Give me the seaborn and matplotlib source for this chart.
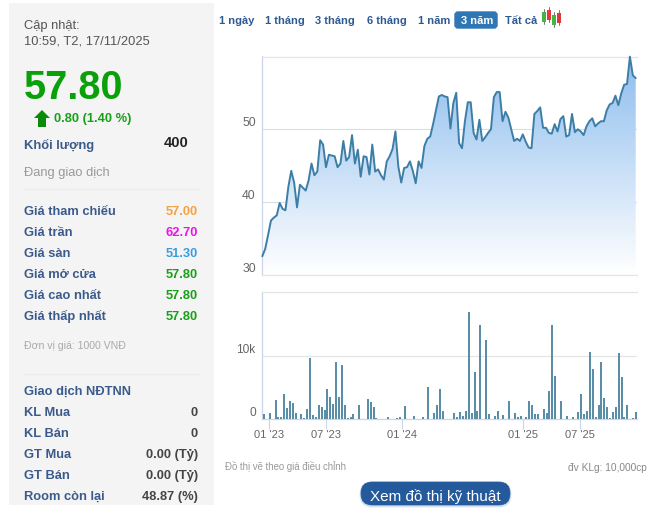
import numpy as np
import pandas as pd
import matplotlib
matplotlib.use('Agg')
import matplotlib.pyplot as plt
import seaborn as sns
from matplotlib.colors import LinearSegmentedColormap
from matplotlib.patches import FancyBboxPatch, Rectangle, Polygon

W, H = 658, 514

# weekly close
prices = [32.6, 33.6, 35.5, 37.5, 37.9, 38.2, 39.9, 39.1, 38.9, 42.1, 44.3, 42.7, 39.3, 42.4, 42.0, 41.6,
          43.0, 45.3, 43.7, 44.2, 48.5, 47.9, 44.8, 46.5, 46.4, 46.3, 44.8, 45.3, 48.4, 45.7, 46.2, 49.2,
          45.3, 47.2, 43.5, 46.3, 46.2, 43.8, 47.9, 44.2, 44.5, 43.7, 43.1, 45.6, 46.3, 47.3, 49.7, 44.9,
          42.7, 44.7, 44.8, 45.6, 44.3, 42.6, 45.6, 44.7, 47.7, 48.7, 49.0, 50.7, 52.6, 54.5,
          54.7, 54.5, 54.4, 50.1, 53.6, 55.0, 48.1, 47.4, 51.1, 53.7, 53.7, 49.5, 48.6, 51.3, 48.4, 48.9,
          49.5, 50.0, 54.4, 55.1, 55.1, 51.1, 52.4, 51.6, 50.0, 48.4, 48.7, 48.4, 49.3, 48.3, 47.5, 47.4,
          52.1, 52.5, 53.0, 50.2, 50.2, 49.5, 49.4, 50.7, 49.7, 51.4, 51.8, 49.0, 49.2, 52.1, 49.6, 50.0,
          49.7, 49.2, 50.4, 51.1, 51.5, 50.4, 50.8, 51.1, 51.1, 52.6, 53.4, 53.6, 54.6, 53.3, 54.9, 56.1,
          56.2, 59.95, 57.4, 57.0]

# volume, in thousands
volumes = [.84, 0, 1.0, 0, 3.05, .3, .35, 4.0, 1.8, 2.9,
           2.6, 1.0, 0, .84, .2, 1.6, 9.7, .7, .35, 2.3,
           1.95, 1.5, 4.8, 3.5, 2.4, 9.05, 3.5, 8.6, 2.3, .25,
           .35, .85, 0, 2.3, 0, 0, 3.2, 2.75, 1.95, .2,
           0, 0, 0, .35, 0, 0, .2, .3, 0, 2.1,
           0, 0, .5, 0, 0, .35, 0, 5.1, 0, 1.0,
           2.3, 4.8, 1.3, 0, 0, 0, 1.0, .35, 1.15, .6,
           1.3, 16.9, 1.0, 7.5, 1.3, 14.9, 0, 12.5, .85, 0,
           .5, 1.3, 0, .7, 0, 2.9, 0, 1.0, .35, .5,
           0, .3, 2.9, 2.3, .85, .85, 0, 1.6, 1.0, 4.5,
           14.9, 6.85, 0, 2.9, 0, .5, 0, .35, 0, 1.15,
           4.0, .85, 1.3, 10.6, 7.95, .35, 2.3, 9.05, 3.35, 1.95,
           .2, 1.15, 1.95, 10.5, 6.7, .35, 2.3, 0, .15, 1.15]

month_ticks = [1.84, 21.4, 47.7, 89.9, 109.7]
month_labels = ["01 '23", "07 '23", "01 '24", "01 '25", "07 '25"]
price_ticks = [30.1, 40, 50]
price_labels = ['30', '40', '50']
vol_ticks = [0, 10]
vol_labels = ['0', '10k']

tabs = ['1 ngày', '1 tháng', '3 tháng', '6 tháng', '1 năm', '3 năm', 'Tất cả']

price_rows = ['Giá tham chiếu', 'Giá trần', 'Giá sàn', 'Giá mở cửa', 'Giá cao nhất', 'Giá thấp nhất']
price_vals = ['57.00', '62.70', '51.30', '57.80', '57.80', '57.80']
foreign_rows = ['KL Mua', 'KL Bán', 'GT Mua', 'GT Bán', 'Room còn lại']
foreign_vals = ['0', '0', '0.00 (Tỷ)', '0.00 (Tỷ)', '48.87 (%)']

sns.set_theme(style='white')
plt.rcParams['font.family'] = ['Liberation Sans', 'DejaVu Sans']

LINE = '#3d7ea6'
BAR = '#5a8ea8'
GRID = '#e4e4e4'
AXIS = '#ccd6eb'
TICK = '#666666'
LABEL = '#3b5a8c'
GREEN = '#17a017'


def px_axes(fig, left, top, right, bottom):
    return fig.add_axes([left / W, 1 - bottom / H, (right - left) / W, (bottom - top) / H])


fig = plt.figure(figsize=(W / 100, H / 100), dpi=100, facecolor='white')

# page overlay in pixel coordinates
bg = fig.add_axes([0, 0, 1, 1])
bg.set_xlim(0, W)
bg.set_ylim(H, 0)
bg.axis('off')
bg.add_patch(Rectangle((9, 3), 205, 502, fc='#f4f4f4', ec='none'))


def txt(x, y, s, size, color, weight='normal', ha='left'):
    # y is the middle of the capitals, anchor on the baseline so accents don't shift rows
    bg.text(x, y + 0.5 * size, s, fontsize=size, color=color, fontweight=weight, ha=ha, va='baseline')


txt(24, 24.5, 'Cập nhật:', 9.3, '#555555')
txt(24, 39.5, '10:59, T2, 17/11/2025', 9.3, '#555555')
txt(24, 85, '57.80', 28.5, '#0aa00a', 'bold')
bg.add_patch(Polygon([[34, 118], [42, 110], [50, 118], [46, 118], [46, 127], [38, 127], [38, 118]],
                     fc='#0b8a0b', ec='none'))
txt(54, 117, '0.80 (1.40 %)', 9.3, GREEN, 'bold')
txt(24, 144, 'Khối lượng', 9.4, LABEL, 'bold')
txt(189, 142, '400', 10.6, '#222222', 'bold', 'right')
txt(24, 171, 'Đang giao dịch', 9.3, '#999999')
bg.plot([24, 199], [189, 189], color='#ebebeb', lw=0.8)

row_colors = ['#f7a13c', '#ee11ee', '#3d9be0', GREEN, GREEN, GREEN]
for i, (name, val) in enumerate(zip(price_rows, price_vals)):
    txt(24, 210 + 21 * i, name, 9.3, LABEL, 'bold')
    txt(198, 210 + 21 * i, val, 9.3, row_colors[i], 'bold', 'right')

txt(24, 345, 'Đơn vị giá: 1000 VNĐ', 7.6, '#aaaaaa')
bg.plot([24, 199], [374, 374], color='#ebebeb', lw=0.8)
txt(24, 390, 'Giao dịch NĐTNN', 9.3, LABEL, 'bold')
for i, (name, val) in enumerate(zip(foreign_rows, foreign_vals)):
    txt(24, 411 + 21 * i, name, 9.3, LABEL, 'bold')
    txt(198, 411 + 21 * i, val, 9.3, '#444444', 'bold', 'right')

# range tabs
tab_x = [219, 265, 315, 367, 418, 461, 505]
for name, x in zip(tabs, tab_x):
    selected = name == '3 năm'
    if selected:
        bg.add_patch(FancyBboxPatch((455, 12), 42, 16, boxstyle='round,pad=0,rounding_size=3',
                                    fc='#2f76b5', ec='#2f76b5', lw=1))
    txt(x, 19.5, name, 8, 'white' if selected else '#2e5a94', 'bold')

# little candlestick icon
for x, y0, y1, c in [(544, 12, 22, '#45b545'), (549, 10, 20, '#e23b3b'), (554, 15, 25, '#45b545'), (558.5, 13, 23, '#d93a3a')]:
    bg.plot([x, x], [y0 - 3, y1 + 2], color='#777777', lw=0.7)
    bg.add_patch(Rectangle((x - 2, y0), 4, y1 - y0, fc=c, ec='none', zorder=3))

txt(225, 467, 'Đồ thị vẽ theo giá điều chỉnh', 6.9, '#999999')
txt(647, 467, 'đv KLg: 10,000cp', 7.3, '#888888', ha='right')

bg.add_patch(FancyBboxPatch((361, 483), 149, 23, boxstyle='round,pad=0,rounding_size=11',
                            fc='#d8e2ee', ec='#d8e2ee', lw=2))
bg.add_patch(FancyBboxPatch((361, 482), 149, 23, boxstyle='round,pad=0,rounding_size=11',
                            fc='#245a9b', ec='#245a9b', lw=0.5))
txt(435.5, 495, 'Xem đồ thị kỹ thuật', 11, 'white', ha='center')

# price panel
ax = px_axes(fig, 262, 56.5, 637, 274.5)
ax.patch.set_alpha(0)
df = pd.DataFrame({'t': np.arange(len(prices)), 'price': prices})
step = (635.7 - 261.7) / (len(prices) - 1)
sns.lineplot(data=df, x='t', y='price', color=LINE, lw=1.4, ax=ax, zorder=4, clip_on=False)
area = ax.fill_between(df['t'], df['price'], 30.1, color='none')
cmap = LinearSegmentedColormap.from_list('fade', ['#8dbdee', '#ffffff'])
grad = ax.imshow(np.linspace(0, 1, 256).reshape(-1, 1), cmap=cmap, aspect='auto', zorder=1,
                 extent=[df['t'].min(), df['t'].max(), 30.1, 59.97], origin='upper')
grad.set_clip_path(area.get_paths()[0], transform=ax.transData)
ax.set_xlim(-0.1, len(prices) - 1 + 1.3 / step)
ax.set_ylim(30.1, 59.97)
ax.set_yticks(price_ticks, price_labels)
ax.set_xticks([])
ax.set_xlabel('')
ax.set_ylabel('')
ax.grid(axis='y', color='#c9d3dd', lw=0.8, alpha=0.75)
ax.tick_params(axis='y', length=0, pad=4.5, labelsize=8.8, labelcolor=TICK)
for lab in ax.get_yticklabels():
    lab.set_va('bottom')
sns.despine(ax=ax, right=True, top=False)
ax.spines['top'].set_color(GRID)
ax.spines['bottom'].set_color(GRID)
ax.spines['left'].set_color(AXIS)
for s in ax.spines.values():
    s.set_linewidth(0.9)

# volume panel
ax2 = px_axes(fig, 262, 291.5, 637, 419.3)
ax2.patch.set_alpha(0)
vdf = pd.DataFrame({'t': np.arange(len(volumes)), 'vol': volumes})
sns.barplot(data=vdf, x='t', y='vol', native_scale=True, color=BAR, saturation=1, width=0.7,
            edgecolor='none', linewidth=0, ax=ax2, zorder=3)
vstep = (636 - 264) / (len(volumes) - 1)
ax2.set_xlim(-(264 - 262) / vstep, len(volumes) - 1 + 1 / vstep)
ax2.set_ylim(0, 20.2)
ax2.set_yticks(vol_ticks, vol_labels)
ax2.set_xticks(month_ticks, month_labels)
ax2.set_xlabel('')
ax2.set_ylabel('')
ax2.grid(axis='y', color=GRID, lw=0.9)
ax2.set_axisbelow(True)
ax2.tick_params(axis='y', length=0, pad=4.5, labelsize=8.6, labelcolor=TICK)
ax2.tick_params(axis='x', length=7, width=0.8, color=AXIS, pad=1, labelsize=8, labelcolor=TICK, bottom=True)
for lab in ax2.get_yticklabels():
    lab.set_va('bottom')
sns.despine(ax=ax2, right=True, top=False)
ax2.spines['top'].set_color(GRID)
ax2.spines['bottom'].set_color(AXIS)
ax2.spines['left'].set_color(AXIS)
for s in ax2.spines.values():
    s.set_linewidth(0.9)

fig.savefig('out.png', dpi=100)
